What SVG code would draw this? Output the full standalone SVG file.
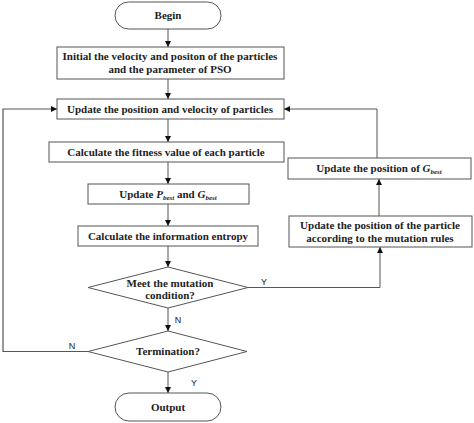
<svg xmlns="http://www.w3.org/2000/svg" width="474" height="423" viewBox="0 0 474 423">
<style>
.box{fill:#fff;stroke:#555;stroke-width:1}
.t{font-family:"Liberation Serif",serif;font-size:11px;font-weight:bold;fill:#222;text-anchor:middle}
.l{font-family:"Liberation Sans",sans-serif;font-size:9px;fill:#222;text-anchor:middle}
.c{fill:none;stroke:#555;stroke-width:1}
</style>
<defs>
<marker id="ah" viewBox="0 0 10 10" refX="10" refY="5" markerWidth="6" markerHeight="6" orient="auto" markerUnits="userSpaceOnUse">
<path d="M0,0 L10,5 L0,10 z" fill="#111"/>
</marker>
</defs>
<rect width="474" height="423" fill="#fff"/>
<g id="connectors">
<line class="c" x1="168" y1="29" x2="168" y2="47" marker-end="url(#ah)"/>
<line class="c" x1="168" y1="79" x2="168" y2="99" marker-end="url(#ah)"/>
<line class="c" x1="168" y1="119" x2="168" y2="142" marker-end="url(#ah)"/>
<line class="c" x1="168" y1="162" x2="168" y2="184" marker-end="url(#ah)"/>
<line class="c" x1="168" y1="204" x2="168" y2="226" marker-end="url(#ah)"/>
<line class="c" x1="168" y1="246" x2="168" y2="267" marker-end="url(#ah)"/>
<line class="c" x1="168" y1="308" x2="168" y2="331" marker-end="url(#ah)"/>
<line class="c" x1="168" y1="372" x2="168" y2="393" marker-end="url(#ah)"/>
<polyline class="c" points="248,287.5 380,287.5 380,247" marker-end="url(#ah)"/>
<line class="c" x1="379" y1="216" x2="379" y2="179" marker-end="url(#ah)"/>
<polyline class="c" points="377,158 377,109 284,109" marker-end="url(#ah)"/>
<polyline class="c" points="88,351.5 3,351.5 3,109 57,109" marker-end="url(#ah)" style="stroke-width:1.2"/>
<text class="l" x="264" y="285">Y</text>
<text class="l" x="178" y="323">N</text>
<text class="l" x="72" y="349">N</text>
<text class="l" x="194" y="386">Y</text>
</g>
<g id="begin">
<rect class="box" x="115" y="2" width="106" height="27" rx="13.5"/>
<text class="t" x="168" y="19">Begin</text>
</g>
<g id="init">
<rect class="box" x="57" y="47" width="227" height="32"/>
<text class="t" x="170" y="60">Initial the velocity and positon of the particles</text>
<text class="t" x="170" y="73">and the parameter of PSO</text>
</g>
<g id="update">
<rect class="box" x="57" y="99" width="227" height="20"/>
<text class="t" x="170" y="113">Update the position and velocity of particles</text>
</g>
<g id="fitness">
<rect class="box" x="49" y="142" width="235" height="20"/>
<text class="t" x="166" y="156">Calculate the fitness value of each particle</text>
</g>
<g id="pbest">
<rect class="box" x="88" y="184" width="161" height="20"/>
<text class="t" x="168" y="198">Update <tspan font-style="italic">P</tspan><tspan font-style="italic" font-size="7" dy="2">best</tspan><tspan dy="-2">  and </tspan><tspan font-style="italic">G</tspan><tspan font-style="italic" font-size="7" dy="2">best</tspan></text>
</g>
<g id="entropy">
<rect class="box" x="78" y="226" width="180" height="20"/>
<text class="t" x="168" y="240">Calculate the information entropy</text>
</g>
<g id="gbest">
<rect class="box" x="288" y="158" width="183" height="21"/>
<text class="t" x="379" y="172">Update the position of <tspan font-style="italic">G</tspan><tspan font-style="italic" font-size="7" dy="2">best</tspan></text>
</g>
<g id="mutate">
<rect class="box" x="289" y="216" width="183" height="31"/>
<text class="t" x="380" y="229">Update the position of the particle</text>
<text class="t" x="380" y="242">according to the mutation rules</text>
</g>
<g id="cond">
<polygon class="box" points="168,267 248,287.5 168,308 88,287.5"/>
<text class="t" x="170" y="287">Meet the mutation</text>
<text class="t" x="170" y="299">condition?</text>
</g>
<g id="term">
<polygon class="box" points="168,331 247,351.5 168,372 88,351.5"/>
<text class="t" x="168" y="355">Termination?</text>
</g>
<g id="output">
<rect class="box" x="115" y="393" width="106" height="28" rx="14"/>
<text class="t" x="168" y="411">Output</text>
</g>
</svg>
